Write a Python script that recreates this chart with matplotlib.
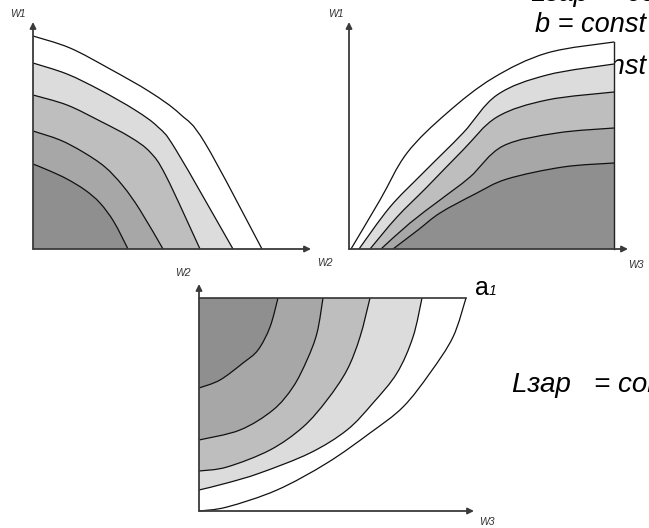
import matplotlib
matplotlib.use("Agg")
import matplotlib.pyplot as plt
from matplotlib.path import Path
from matplotlib.patches import PathPatch

# ---------------- data (pixel-space diagram coordinates) ----------------
# Panel 1: W1 (vertical) vs W2 (horizontal); curves from W1 axis to W2 axis
p1_x = [
    [33, 70, 110, 150, 180, 205, 262],
    [33, 67, 100, 135, 158, 176, 233],
    [33, 67, 100, 130, 150, 166, 200],
    [33, 60, 83, 105, 123, 140, 163],
    [33, 50, 67, 85, 100, 114, 128],
]
p1_y = [
    [36, 48, 69, 92, 114, 143, 249],
    [63, 74, 90, 110, 127, 150, 249],
    [95, 105, 121, 137, 152, 176, 249],
    [131, 140, 152, 167, 186, 210, 249],
    [164, 171, 179, 190, 203, 222, 249],
]
# Panel 2: W1 vs W3; curves from W3 axis to right edge
p2_x = [
    [351, 380, 407, 447, 493, 547, 614],
    [359, 390, 423, 463, 497, 547, 614],
    [370, 397, 427, 463, 497, 547, 614],
    [381, 410, 440, 470, 503, 557, 614],
    [393, 418, 440, 475, 507, 563, 614],
]
p2_y = [
    [249, 200, 153, 113, 78, 53, 42],
    [249, 207, 173, 133, 95, 75, 64],
    [249, 217, 187, 150, 117, 100, 92],
    [249, 223, 200, 177, 146, 133, 128],
    [249, 230, 213, 194, 179, 167, 163],
]
# Panel 3: W2 vs W3; curves from top edge to W2 axis
p3_x = [
    [278, 270, 258, 243, 220, 199],
    [323, 317, 307, 293, 273, 240, 199],
    [370, 360, 347, 327, 303, 270, 227, 199],
    [422, 413, 397, 373, 347, 310, 260, 227, 199],
    [466, 453, 430, 403, 370, 327, 277, 227, 199],
]
p3_y = [
    [298, 327, 350, 363, 380, 388],
    [298, 333, 360, 387, 410, 430, 440],
    [298, 337, 370, 400, 427, 450, 467, 471],
    [298, 337, 373, 403, 430, 453, 473, 483, 490],
    [298, 337, 373, 407, 433, 463, 490, 507, 511],
]
band_colors = ["#ffffff", "#dcdcdc", "#bebebe", "#a7a7a7", "#8f8f8f"]

# ---------------- helpers ----------------
def smooth_path(xs, ys):
    """Catmull-Rom through points, rendered as cubic Bezier path segments."""
    pts = list(zip(xs, ys))
    n = len(pts)
    verts = [pts[0]]
    codes = [Path.MOVETO]
    for i in range(n - 1):
        p0 = pts[i - 1] if i > 0 else pts[i]
        p1 = pts[i]
        p2 = pts[i + 1]
        p3 = pts[i + 2] if i + 2 < n else pts[i + 1]
        c1 = (p1[0] + (p2[0] - p0[0]) / 6.0, p1[1] + (p2[1] - p0[1]) / 6.0)
        c2 = (p2[0] - (p3[0] - p1[0]) / 6.0, p2[1] - (p3[1] - p1[1]) / 6.0)
        verts += [c1, c2, p2]
        codes += [Path.CURVE4] * 3
    return verts, codes


def region(ax, xs, ys, extra, color, z):
    v, c = smooth_path(xs, ys)
    for p in extra:
        v.append(p)
        c.append(Path.LINETO)
    v.append(v[0])
    c.append(Path.CLOSEPOLY)
    ax.add_patch(PathPatch(Path(v, c), facecolor=color, edgecolor="none", zorder=z))
    v2, c2 = smooth_path(xs, ys)
    ax.add_patch(PathPatch(Path(v2, c2), facecolor="none", edgecolor="#111111",
                           lw=0.9, zorder=z + 0.5))


def arrow(ax, start, tip):
    ax.annotate("", xy=tip, xytext=start,
                arrowprops=dict(arrowstyle="-|>", color="#3a3a3a", lw=1.3,
                                mutation_scale=9, shrinkA=0, shrinkB=0),
                zorder=20)


# ---------------- figure ----------------
W, H = 649, 528
fig = plt.figure(figsize=(W / 100, H / 100), dpi=100)
ax = fig.add_axes([0, 0, 1, 1])
ax.set_xlim(0, W)
ax.set_ylim(H, 0)
ax.axis("off")

font = ["Liberation Sans", "DejaVu Sans"]
big = 19.5

# background texts (partly hidden by diagrams / page edge)
ax.text(646, 74, "const", fontsize=big, style="italic", family=font,
        ha="right", va="baseline", zorder=0)
ax.text(531, 1, "Lзар  = const", fontsize=big, style="italic", family=font,
        ha="left", va="baseline", zorder=0)
ax.text(646, 32, "b = const", fontsize=big, style="italic", family=font,
        ha="right", va="baseline", zorder=30)
ax.text(512, 392, "Lзар   = const", fontsize=20, style="italic", family=font,
        ha="left", va="baseline", zorder=30)
ax.text(475, 295, "а", fontsize=18, family=font, ha="left", va="baseline", zorder=30)
ax.text(489, 295, "1", fontsize=10, style="italic", family=font, ha="left",
        va="baseline", zorder=30)

# Panel 1
o1 = (33, 249)
for i in range(5):
    region(ax, p1_x[i], p1_y[i], [o1], band_colors[i], 2 + i)
arrow(ax, o1, (33, 22))
arrow(ax, o1, (311, 249))

# Panel 2
o2 = (349, 249)
for i in range(5):
    region(ax, p2_x[i], p2_y[i], [(614, 249)], band_colors[i], 2 + i)
ax.plot([614, 614], [p2_y[0][-1], 249], color="#222222", lw=1.0, zorder=15)
arrow(ax, o2, (349, 22))
arrow(ax, o2, (628, 249))

# Panel 3
o3 = (199, 511)
for i in range(5):
    if i == 0:
        extra = [o3, (199, 298)]
    else:
        extra = [(199, 298)]
    region(ax, p3_x[4 - i], p3_y[4 - i], extra, band_colors[i], 2 + i)
ax.plot([199, 466], [298, 298], color="#333333", lw=1.2, zorder=15)
arrow(ax, o3, (199, 284))
arrow(ax, o3, (474, 511))

# axis labels
lab = dict(fontsize=7.5, style="italic", family=font, color="#333333", zorder=30)
ax.text(10, 17, "W1", ha="left", va="baseline", **lab)
ax.text(328, 17, "W1", ha="left", va="baseline", **lab)
ax.text(317, 266, "W2", ha="left", va="baseline", **lab)
ax.text(628, 268, "W3", ha="left", va="baseline", **lab)
ax.text(175, 276, "W2", ha="left", va="baseline", **lab)
ax.text(479, 525, "W3", ha="left", va="baseline", **lab)

fig.savefig("out.png", dpi=100)
